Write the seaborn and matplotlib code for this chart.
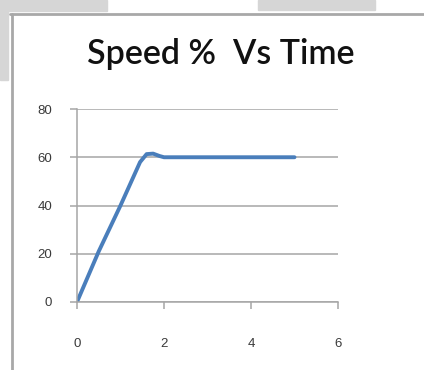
import matplotlib
matplotlib.use("Agg")
import matplotlib.pyplot as plt
import matplotlib.patches as mpatches
import matplotlib.lines as mlines
import seaborn as sns

# values
time_s = [0, 0.5, 1.0, 1.3, 1.45, 1.6, 1.75, 1.9, 2.0, 3.0, 4.0, 5.0]
speed_pct = [0, 21, 40, 52, 58, 61.3, 61.5, 60.5, 60, 60, 60, 60]
x_ticks = [0, 2, 4, 6]
y_ticks = [0, 20, 40, 60, 80]
title = "Speed %  Vs Time"

sns.set_style("white")
plt.rcParams['font.family'] = ['Liberation Sans', 'DejaVu Sans']

W, H = 424, 370
fig = plt.figure(figsize=(W / 100, H / 100), dpi=100)

# screenshot leftovers: grey blocks and the chart frame
def px_rect(x0, y0, x1, y1, color):
    fig.patches.append(mpatches.Rectangle((x0 / W, 1 - y1 / H), (x1 - x0) / W, (y1 - y0) / H,
                                          transform=fig.transFigure, color=color, zorder=0))

px_rect(0, 0, 107, 11, '#d6d6d6')
px_rect(0, 0, 8, 80, '#d6d6d6')
px_rect(258, 0, 375, 10, '#d6d6d6')
fig.lines.append(mlines.Line2D([10 / W, 1], [1 - 13.5 / H, 1 - 13.5 / H], transform=fig.transFigure,
                               color='#a8a8a8', lw=2))
fig.lines.append(mlines.Line2D([11.5 / W, 11.5 / W], [0, 1 - 13.5 / H], transform=fig.transFigure,
                               color='#a8a8a8', lw=2))

ax = fig.add_axes([77 / W, 1 - 302 / H, (338 - 77) / W, (302 - 109) / H])
sns.lineplot(x=time_s, y=speed_pct, ax=ax, color='#4a7ebb', linewidth=2.8)

ax.set_xlim(0, 6)
ax.set_ylim(0, 80)
ax.set_xticks(x_ticks)
ax.set_yticks(y_ticks)
ax.yaxis.grid(True, color='#a6a6a6', linewidth=1.1)
ax.set_axisbelow(True)
for side in ['top', 'right']:
    ax.spines[side].set_visible(False)
for side in ['left', 'bottom']:
    ax.spines[side].set_color('#a6a6a6')
    ax.spines[side].set_linewidth(1.1)
ax.tick_params(axis='y', length=5, width=1.1, color='#a6a6a6', pad=13, labelsize=9.5, labelcolor='#3a3a3a', left=True)
ax.tick_params(axis='x', length=5, width=1.1, color='#a6a6a6', pad=21, labelsize=9.5, labelcolor='#3a3a3a', bottom=True)

fig.text(221 / W, 1 - 64 / H, title, ha='center', va='baseline', fontsize=24.5, fontweight='semibold',
         family=['Lato', 'DejaVu Sans'], color='#111111')

fig.savefig('out.png', dpi=100)
